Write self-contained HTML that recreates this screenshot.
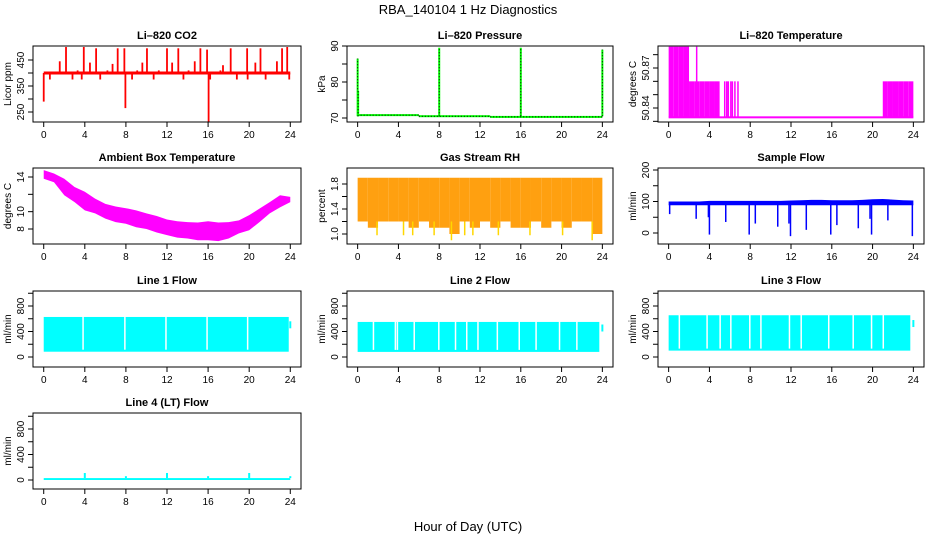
<!DOCTYPE html>
<html><head><meta charset="utf-8"><style>
html,body{margin:0;padding:0;background:#fff;}
svg{display:block;font-family:"Liberation Sans",Arial,sans-serif;}
</style></head><body>
<svg id="chart" width="936" height="540" viewBox="0 0 936 540" xmlns="http://www.w3.org/2000/svg">
<text x="468" y="14" text-anchor="middle" font-size="13">RBA_140104  1 Hz Diagnostics</text>
<text x="468" y="531" text-anchor="middle" font-size="13">Hour of Day (UTC)</text>
</svg>
<script>
// ---- data ----
const xTicks=[0,4,8,12,16,20,24];
const co2Base=400;
const co2SpikeHours=[1.56,2.17,3.3,3.9,4.5,5.1,6.2,6.7,7.2,7.85,9.1,9.6,10.05,11.2,12,12.5,13.1,14.1,14.7,15.25,15.9,17.2,17.45,18.2,19.8,20.6,21.1,22.7,23.2,23.7,0,7.95,16.05,0.6,2.8,3.7,5.5,8.6,10.7,13.6,16.2,18.8,19.85,21.6,23.9];
const co2SpikeVals=[445,500,410,500,440,495,410,435,495,495,410,440,495,410,495,440,495,410,445,495,490,410,430,495,495,440,495,445,495,500,290,265,210,375,375,375,375,375,375,375,375,375,375,375,375];
const presSegStart=[0,6,13];
const presSegEnd=[6,13,24];
const presSegVals=[70.8,70.5,70.3];
const presSpikeHours=[0,0.05,8,16,24];
const presSpikeVals=[86.5,77.5,89.5,89.5,89];
const tempLow=50.833;
const tempBinMax=[50.886,50.886,50.886,50.886,50.86,50.86,50.86,50.86,50.86,50.86,50.833,50.833,50.833,50.833,50.833,50.833,50.833,50.833,50.833,50.833,50.833,50.833,50.833,50.833,50.833,50.833,50.833,50.833,50.833,50.833,50.833,50.833,50.833,50.833,50.833,50.833,50.833,50.833,50.833,50.833,50.833,50.833,50.86,50.86,50.86,50.86,50.86,50.86];
const tempLineHours=[2.75,5.5,5.7,5.85,6.1,6.25,6.5,6.8];
const tempLineVals=[50.886,50.86,50.86,50.86,50.86,50.86,50.86,50.86];
const ambUpper=[14.8,14.4,13.8,12.85,12.3,11.5,10.9,10.6,10.4,10.15,9.8,9.5,9.1,8.9,8.8,8.75,8.9,8.75,8.8,9.0,9.6,10.35,11.1,11.9,11.7];
const ambLower=[13.8,13.4,11.9,11.1,10.15,9.8,9.2,8.8,8.6,8.2,8.0,7.6,7.3,7.0,6.9,6.7,6.7,6.6,6.9,7.5,7.85,8.8,9.8,10.5,11.1];
const rhUpper=[1.9,1.9,1.9,1.9,1.9,1.9,1.9,1.9,1.9,1.9,1.9,1.9,1.9,1.9,1.9,1.9,1.9,1.9,1.9,1.9,1.9,1.9,1.9,1.9,1.9];
const rhLower=[1.2,1.1,1.2,1.2,1.2,1.1,1.2,1.1,1.1,1.0,1.2,1.1,1.2,1.1,1.2,1.1,1.1,1.2,1.1,1.2,1.1,1.2,1.2,1.0,1.5];
const rhDropHours=[1.9,4.5,5.4,7.5,9.2,10.5,11.3,13.8,16.9,20.1,23.0];
const rhDropVals=[0.98,0.98,0.98,0.98,0.9,0.98,0.98,0.98,0.98,0.98,0.9];
const sampUpper=[100,100,100,100,102,102,102,102,102,102,102,102,103,104,105,105,104,104,104,105,107,108,106,104,103];
const sampLower=[88,88,88,88,88,88,88,88,88,88,88,88,88,88,88,88,88,88,88,88,88,88,88,88,88];
const sampDropHours=[0.1,2.7,3.9,4.0,5.6,7.9,8.5,10.7,11.8,11.95,13.5,15.9,16.5,18.6,19.75,19.9,21.5,23.9];
const sampDropVals=[60,45,50,-5,35,-5,30,20,30,-10,10,-5,25,15,45,-5,40,-10];
const flow1Top=628, flow1Low=83, flow1End=23.85, flow1Last=[450,560];
const flow1Gaps=[3.83,7.9,11.9,15.9,19.85];
const flow2Top=550, flow2Low=80, flow2End=23.7, flow2Last=[400,510];
const flow2Gaps=[1.55,3.7,3.9,5.55,7.96,9.6,10.7,11.8,13.7,15.85,17.5,19.8,21.5];
const flow3Top=655, flow3Low=100, flow3End=23.7, flow3Last=[470,580];
const flow3Gaps=[1.05,3.77,5.05,6.1,7.96,9.05,11.85,13.0,15.7,18.1,19.9,21.05];
const flow4Low=0, flow4Top=30;
const flow4SpikeHours=[4,8,12,16,20,24];
const flow4SpikeVals=[110,60,110,60,110,60];

// ---- layout ----
const svg=document.getElementById('chart');
const NS='http://www.w3.org/2000/svg';
const cols=[[33,301],[347,613],[658,924]];
const rows=[[46,122],[168,244],[291,367],[413,489]];
function mk(tag,attrs,parent){const e=document.createElementNS(NS,tag);for(const k in attrs)e.setAttribute(k,attrs[k]);(parent||svg).appendChild(e);return e;}
function xs(c,h){const a=cols[c][0],w=cols[c][1]-cols[c][0];return a+w*0.04+h/24*w*0.92;}
function ysF(cal){return v=>cal[1]+(v-cal[0])*(cal[3]-cal[1])/(cal[2]-cal[0]);}

function panel(c,r,title,ylab,cal,ticks,labels,name){
  const g=mk('g',{});
  
  
  const [x0,x1]=cols[c],[y0,y1]=rows[r];
  const ys=ysF(cal);
  const data=mk('g',{},g);
  
  
  const box=mk('rect',{x:x0,y:y0,width:x1-x0,height:y1-y0,fill:'none',stroke:'#000','stroke-width':1},g);
  
  
  const t=mk('text',{x:(x0+x1)/2,y:y0-7,'text-anchor':'middle','font-size':11,'font-weight':'bold'},g);
  t.textContent=title;
  
  
  const xa=mk('g',{},g);
  
  
  mk('line',{x1:xs(c,0),x2:xs(c,24),y1:y1,y2:y1,stroke:'#000'},xa);
  xTicks.forEach(h=>{
    const x=xs(c,h);
    mk('line',{x1:x,x2:x,y1:y1,y2:y1+5,stroke:'#000'},xa);
    const tl=mk('text',{x:x,y:y1+16,'text-anchor':'middle','font-size':10},xa);
    tl.textContent=h;
  });
  const ya=mk('g',{},g);
  
  
  ticks.forEach((v,i)=>{
    const y=ys(v);
    mk('line',{x1:x0-5,x2:x0,y1:y,y2:y,stroke:'#000'},ya);
    if(labels[i]){
      const tl=mk('text',{x:x0-9,y:y,'text-anchor':'middle','font-size':10,transform:`rotate(-90 ${x0-9} ${y})`},ya);
      tl.textContent=labels[i];
    }
  });
  const yt=mk('text',{x:x0-22,y:(y0+y1)/2,'text-anchor':'middle','font-size':10,transform:`rotate(-90 ${x0-22} ${(y0+y1)/2})`},g);
  yt.textContent=ylab;
  
  
  return {data,ys,x:h=>xs(c,h)};
}
function vline(g,x,ya,yb,col,w){mk('line',{x1:x,x2:x,y1:ya,y2:yb,stroke:col,'stroke-width':w||1.5},g);}
function band(g,xa,xb,ya,yb,fill){mk('rect',{x:Math.min(xa,xb),y:Math.min(ya,yb),width:Math.abs(xb-xa),height:Math.abs(yb-ya),fill:fill},g);}

// CO2
{const p=panel(0,0,'Li\u2013820 CO2','Licor ppm',[450,60,250,112],[250,300,350,400,450],['250','','350','','450'],'co2');
 band(p.data,p.x(0),p.x(24),p.ys(co2Base)-1.5,p.ys(co2Base)+1.5,'#FF0000');
 co2SpikeHours.forEach((h,i)=>vline(p.data,p.x(h),p.ys(co2Base),p.ys(co2SpikeVals[i]),'#FF0000',1.8));}
// Pressure
{const p=panel(1,0,'Li\u2013820 Pressure','kPa',[90,46,70,118],[70,75,80,85,90],['70','','80','','90'],'pressure');
 presSegStart.forEach((s,i)=>{band(p.data,p.x(s),p.x(presSegEnd[i]),p.ys(presSegVals[i])-1,p.ys(presSegVals[i])+1,'#00FF00');
   mk('line',{x1:p.x(s),x2:p.x(presSegEnd[i]),y1:p.ys(presSegVals[i]),y2:p.ys(presSegVals[i]),stroke:'#000','stroke-dasharray':'1 2'},p.data);});
 presSpikeHours.forEach((h,i)=>{vline(p.data,p.x(h),p.ys(70.5),p.ys(presSpikeVals[i]),'#00FF00',2);
   mk('line',{x1:p.x(h),x2:p.x(h),y1:p.ys(70.5),y2:p.ys(presSpikeVals[i]),stroke:'#000','stroke-dasharray':'1 2'},p.data);});}
// Temperature
{const p=panel(2,0,'Li\u2013820 Temperature','degrees C',[50.87,68,50.84,108],[50.83,50.84,50.85,50.86,50.87,50.88],['','50.84','','','50.87',''],'li820-temperature');
 tempBinMax.forEach((v,i)=>{if(v>tempLow)band(p.data,p.x(i*0.5),p.x(i*0.5+0.5),p.ys(v),p.ys(tempLow),'#FF00FF');});
 band(p.data,p.x(0),p.x(24),p.ys(tempLow)-1,p.ys(tempLow)+1,'#FF00FF');
 tempLineHours.forEach((h,i)=>vline(p.data,p.x(h),p.ys(tempLow),p.ys(tempLineVals[i]),'#FF00FF',1.5));}
// Ambient
{const p=panel(0,1,'Ambient Box Temperature','degrees C',[14,177,8,229],[8,10,12,14],['8','10','','14'],'ambient-temperature');
 let pts=ambUpper.map((v,i)=>p.x(i)+','+p.ys(v));
 pts=pts.concat(ambLower.map((v,i)=>p.x(i)+','+p.ys(v)).reverse());
 mk('polygon',{points:pts.join(' '),fill:'#FF00FF'},p.data);}
// RH
{const p=panel(1,1,'Gas Stream RH','percent',[1.8,184,1.0,234],[1.0,1.2,1.4,1.6,1.8],['1.0','','1.4','','1.8'],'gas-stream-rh');
 for(let i=0;i<24;i++){band(p.data,p.x(i),p.x(i+1),p.ys(rhUpper[i]),p.ys(rhLower[i]),'#FFA010');}
 rhDropHours.forEach((h,i)=>vline(p.data,p.x(h),p.ys(1.2),p.ys(rhDropVals[i]),'#FFD700',1.5));}
// Sample flow
{const p=panel(2,1,'Sample Flow','ml/min',[200,170,0,233],[0,50,100,150,200],['0','','100','','200'],'sample-flow');
 let pts=sampUpper.map((v,i)=>p.x(i)+','+p.ys(v));
 pts=pts.concat(sampLower.map((v,i)=>p.x(i)+','+p.ys(v)).reverse());
 mk('polygon',{points:pts.join(' '),fill:'#0000FF'},p.data);
 sampDropHours.forEach((h,i)=>vline(p.data,p.x(h),p.ys(90),p.ys(sampDropVals[i]),'#0000FF',1.5));}
// Flows
function flowPanel(c,r,title,name,top,low,end,last,gaps){
  const y0=rows[r][0];
  const p=panel(c,r,title,'ml/min',[800,y0+15,0,y0+66],[0,200,400,600,800,1000],['0','','400','','800',''],name);
  band(p.data,p.x(0),p.x(end),p.ys(top),p.ys(low),'#00FFFF');
  vline(p.data,p.x(24),p.ys(last[0]),p.ys(last[1]),'#00FFFF',2);
  gaps.forEach(h=>vline(p.data,p.x(h),p.ys(top)-1,p.ys(low)-2,'#FFFFFF',1.5));
}
flowPanel(0,2,'Line 1 Flow','line1-flow',flow1Top,flow1Low,flow1End,flow1Last,flow1Gaps);
flowPanel(1,2,'Line 2 Flow','line2-flow',flow2Top,flow2Low,flow2End,flow2Last,flow2Gaps);
flowPanel(2,2,'Line 3 Flow','line3-flow',flow3Top,flow3Low,flow3End,flow3Last,flow3Gaps);
{const y0=rows[3][0];
 const p=panel(0,3,'Line 4 (LT) Flow','ml/min',[800,y0+16,0,y0+67],[0,200,400,600,800,1000],['0','','400','','800',''],'line4-flow');
 band(p.data,p.x(0),p.x(24),p.ys(flow4Top),p.ys(flow4Low),'#00FFFF');
 flow4SpikeHours.forEach((h,i)=>vline(p.data,p.x(h),p.ys(flow4Top),p.ys(flow4SpikeVals[i]),'#00FFFF',2));}
</script>
</body></html>
